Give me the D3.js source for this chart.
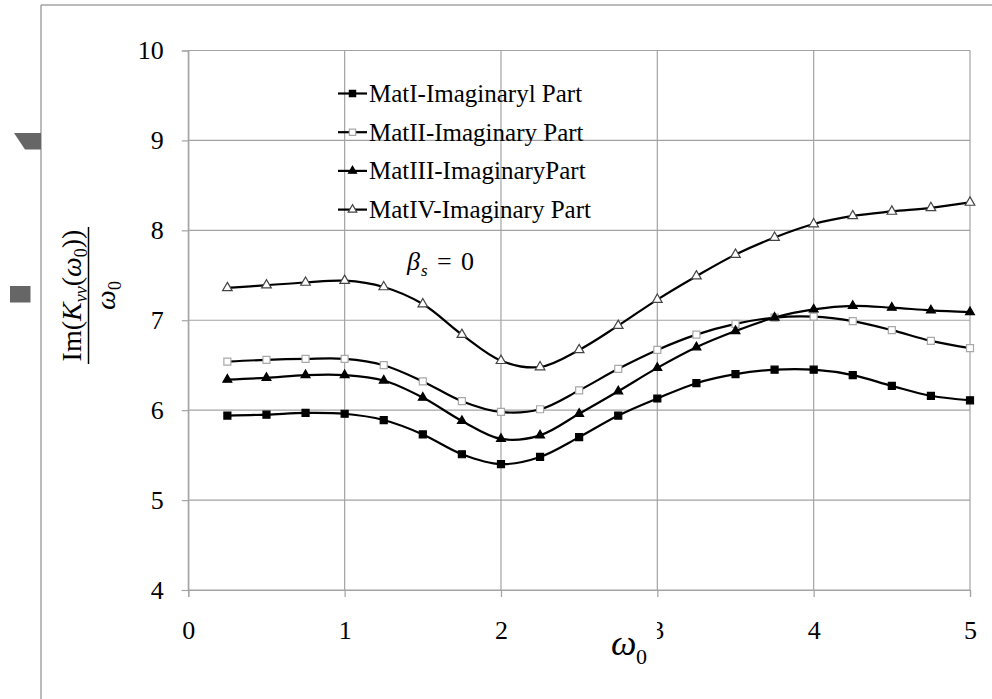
<!DOCTYPE html>
<html>
<head>
<meta charset="utf-8">
<script src="https://cdn.jsdelivr.net/npm/d3@7"></script>
<style>
  body { margin: 0; background: #fff; }
  svg text { font-family: "Times New Roman", "Liberation Serif", Tinos, "DejaVu Serif", "Noto Serif", serif; }
</style>
</head>
<body>
<svg id="chart" width="992" height="699"></svg>
<script>
// values
var omega = [0.25, 0.5, 0.75, 1, 1.25, 1.5, 1.75, 2, 2.25, 2.5, 2.75, 3, 3.25, 3.5, 3.75, 4, 4.25, 4.5, 4.75, 5];
var matI   = [5.94, 5.95, 5.97, 5.96, 5.89, 5.73, 5.51, 5.40, 5.48, 5.70, 5.94, 6.13, 6.30, 6.40, 6.45, 6.45, 6.39, 6.27, 6.16, 6.11];
var matII  = [6.54, 6.56, 6.57, 6.57, 6.50, 6.32, 6.10, 5.98, 6.01, 6.22, 6.46, 6.67, 6.84, 6.96, 7.03, 7.04, 6.99, 6.89, 6.77, 6.69];
var matIII = [6.34, 6.36, 6.39, 6.39, 6.33, 6.14, 5.88, 5.68, 5.72, 5.96, 6.21, 6.47, 6.70, 6.88, 7.03, 7.12, 7.16, 7.14, 7.11, 7.09];
var matIV  = [7.36, 7.39, 7.42, 7.44, 7.37, 7.18, 6.84, 6.55, 6.48, 6.67, 6.94, 7.23, 7.49, 7.73, 7.92, 8.07, 8.16, 8.21, 8.25, 8.31];
var seriesNames = ["MatI-Imaginaryl Part", "MatII-Imaginary Part", "MatIII-ImaginaryPart", "MatIV-Imaginary Part"];
var xTicks = [0, 1, 2, 3, 4, 5];
var yTicks = [4, 5, 6, 7, 8, 9, 10];

// marker style per series
var markers = [
    {shape: d3.symbolSquare,   size: 49, fill: "#000", stroke: "#000"},
    {shape: d3.symbolSquare,   size: 49, fill: "#fff", stroke: "#a8a8a8"},
    {shape: d3.symbolTriangle, size: 34, fill: "#000", stroke: "#000"},
    {shape: d3.symbolTriangle, size: 40, fill: "#fff", stroke: "#444"}
];

var series = [matI, matII, matIII, matIV].map(function(vals, i) {
    return {name: seriesNames[i], marker: markers[i],
            values: vals.map(function(v, j) { return {x: omega[j], y: v}; })};
});

var svg = d3.select("#chart");
var gridColor = "#a3a3a3";
var serif = "'Times New Roman', 'Liberation Serif', Tinos, 'DejaVu Serif', 'Noto Serif', serif";

var x = d3.scaleLinear().domain([0, 5]).range([188.3, 970]);
var y = d3.scaleLinear().domain([4, 10]).range([590, 50.5]);

// outer frame bits
svg.append("line").attr("x1", 41).attr("x2", 992).attr("y1", 5).attr("y2", 5)
    .attr("stroke", gridColor).attr("stroke-width", 1.5);
svg.append("line").attr("x1", 41).attr("x2", 41).attr("y1", 5).attr("y2", 699)
    .attr("stroke", gridColor).attr("stroke-width", 1.5);
svg.append("path").attr("d", "M14,133 L41,133 L41,149.5 L25,149.5 Z").attr("fill", "#666");
svg.append("rect").attr("x", 10).attr("y", 286).attr("width", 20.5).attr("height", 16.5).attr("fill", "#666");

// grid
svg.append("g").selectAll("line").data(yTicks).enter().append("line")
    .attr("x1", x(0)).attr("x2", x(5))
    .attr("y1", function(d) { return y(d); }).attr("y2", function(d) { return y(d); })
    .attr("stroke", gridColor).attr("stroke-width", 1.2);
svg.append("g").selectAll("line").data(xTicks).enter().append("line")
    .attr("y1", y(4)).attr("y2", y(10))
    .attr("x1", function(d) { return x(d); }).attr("x2", function(d) { return x(d); })
    .attr("stroke", gridColor).attr("stroke-width", 1.2);

// axes
var yAxis = d3.axisLeft(y).tickValues(yTicks).tickSize(6.5).tickPadding(18).tickFormat(d3.format("d"));
var xAxis = d3.axisBottom(x).tickValues(xTicks).tickSize(7).tickPadding(24).tickFormat(d3.format("d"));

var gy = svg.append("g").attr("transform", "translate(" + x(0) + ",0)").call(yAxis);
var gx = svg.append("g").attr("transform", "translate(0," + y(4) + ")").call(xAxis);
[gx, gy].forEach(function(g) {
    g.attr("font-family", serif).attr("font-size", 26);
    g.select(".domain").attr("stroke", gridColor).attr("stroke-width", 1.2);
    g.selectAll(".tick line").attr("stroke", gridColor).attr("stroke-width", 1.2);
    g.selectAll(".tick text").attr("fill", "#000");
});

// curves
var line = d3.line()
    .x(function(d) { return x(d.x); })
    .y(function(d) { return y(d.y); })
    .curve(d3.curveCatmullRom.alpha(0.5));

var sg = svg.append("g").selectAll("g").data(series).enter().append("g");
sg.append("path")
    .attr("d", function(d) { return line(d.values); })
    .attr("fill", "none").attr("stroke", "#000").attr("stroke-width", 2.2);
sg.each(function(s) {
    d3.select(this).selectAll("path.mk").data(s.values).enter().append("path")
        .attr("class", "mk")
        .attr("d", d3.symbol().type(s.marker.shape).size(s.marker.size))
        .attr("transform", function(d) { return "translate(" + x(d.x) + "," + y(d.y) + ")"; })
        .attr("fill", s.marker.fill).attr("stroke", s.marker.stroke).attr("stroke-width", 1.2);
});

// legend
var lg = svg.append("g").selectAll("g").data(series).enter().append("g")
    .attr("transform", function(d, i) { return "translate(338," + (93.5 + i * 38.7) + ")"; });
lg.append("line").attr("x1", 0).attr("x2", 29).attr("stroke", "#000").attr("stroke-width", 2.2);
lg.append("path")
    .attr("d", function(d) { return d3.symbol().type(d.marker.shape).size(d.marker.size * 0.8)(); })
    .attr("transform", "translate(14.5,0)")
    .attr("fill", function(d) { return d.marker.fill; })
    .attr("stroke", function(d) { return d.marker.stroke; }).attr("stroke-width", 1.2);
lg.append("text").attr("x", 31).attr("y", 8.5)
    .style("font-size", "25px").text(function(d) { return d.name; });

// beta_s = 0 note
var note = svg.append("text").attr("y", 270).style("font-size", "26px");
note.append("tspan").attr("x", 407).style("font-style", "italic").text("β");
note.append("tspan").attr("x", 421).attr("y", 276).style("font-style", "italic").style("font-size", "17px").text("s");
note.append("tspan").attr("x", 437).attr("y", 270).text("=");
note.append("tspan").attr("x", 461).attr("y", 270).text("0");

// x axis title, its box hides part of the "3"
svg.append("rect").attr("x", 604).attr("y", 612).attr("width", 53).attr("height", 64).attr("fill", "#fff");
var xt = svg.append("text").style("font-size", "36px");
xt.append("tspan").attr("x", 611).attr("y", 655).style("font-style", "italic").text("ω");
xt.append("tspan").attr("x", 636).attr("y", 664).style("font-size", "22px").text("0");

// y axis title, a fraction turned on its side
var yt = svg.append("g").attr("transform", "translate(88.5,295.5) rotate(-90)");
yt.append("line").attr("x1", -68.5).attr("x2", 68.5).attr("stroke", "#000").attr("stroke-width", 1.5);
var num = yt.append("text").attr("x", 0).attr("y", -8).attr("text-anchor", "middle").style("font-size", "28px");
num.append("tspan").text("Im(");
num.append("tspan").style("font-style", "italic").text("K");
num.append("tspan").attr("dy", 6).style("font-style", "italic").style("font-size", "18px").text("vv");
num.append("tspan").attr("dy", -6).text("(");
num.append("tspan").style("font-style", "italic").text("ω");
num.append("tspan").attr("dy", 6).style("font-size", "18px").text("0");
num.append("tspan").attr("dy", -6).text("))");
var den = yt.append("text").attr("x", 0).attr("y", 26).attr("text-anchor", "middle").style("font-size", "28px");
den.append("tspan").style("font-style", "italic").text("ω");
den.append("tspan").attr("dy", 6).style("font-size", "18px").text("0");
</script>
</body>
</html>
